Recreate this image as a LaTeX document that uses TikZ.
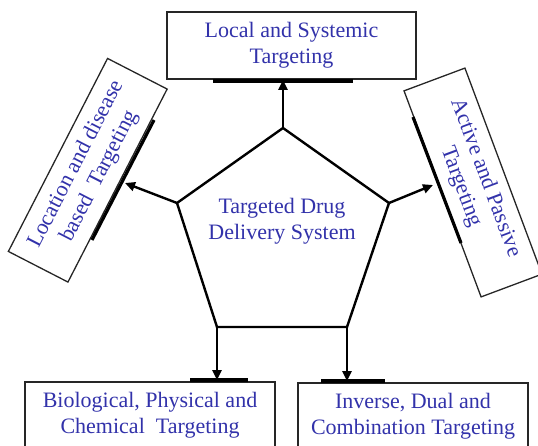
\documentclass[tikz,border=0pt]{standalone}
\usepackage{fontspec}
\setmainfont{Liberation Serif}
\usetikzlibrary{arrows.meta}
\definecolor{txtblue}{RGB}{50,50,170}
\begin{document}
\begin{tikzpicture}[x=1pt,y=-1pt,
  box/.style={draw=black!85, line width=1.3pt, minimum width=#1, minimum height=67pt,
    inner sep=0pt, align=center, text=txtblue, font=\fontsize{22}{26}\selectfont},
  box/.default=230pt,
  edge/.style={line width=2.4pt, line join=miter},
  arr/.style={line width=2.4pt, -{Triangle[length=10pt,width=9pt]}},
  bar/.style={line width=3.2pt}
]
\useasboundingbox (0,0) rectangle (538,446);
% boxes
\node[box=249pt] (topbox) at (291.5,45.5) {Local and Systemic\\Targeting};
\node[box=217pt, rotate=62.8] (leftbox) at (87.75,170.25) {Location and disease\\based~ Targeting};
\node[box=220pt, minimum height=65pt, rotate=-69.5] (rightbox) at (473,182.5) {Active and Passive\\Targeting};
\node[box=250pt] (blbox) at (150,415.5) {Biological, Physical and\\Chemical~ Targeting};
\node[box=230pt] (brbox) at (413,416.5) {Inverse, Dual and\\Combination Targeting};
% pentagon
\coordinate (pT) at (283,128);
\coordinate (pR) at (389,203);
\coordinate (pBR) at (347,327);
\coordinate (pBL) at (217,327);
\coordinate (pL) at (177,203);
\draw[edge] (pT) -- (pR) -- (pBR) -- (pBL) -- (pL) -- cycle;
\node[text=txtblue, align=center, font=\fontsize{22}{26}\selectfont] (center) at (282,221) {Targeted Drug\\Delivery System};
% arrow ends
\coordinate (aT) at (283,80);
\coordinate (aL) at (125,183);
\coordinate (aR) at (433,185);
\coordinate (aBL) at (217,380);
\coordinate (aBR) at (347,381);
\draw[arr] (pT) -- (aT);
\draw[arr] (pL) -- (aL);
\draw[arr] (pR) -- (aR);
\draw[arr] (pBL) -- (aBL);
\draw[arr] (pBR) -- (aBR);
% thick bars
\draw[bar] (213,81) -- (353,81);
\draw[bar] (154,120) -- (92,240);
\draw[bar] (413,117) -- (461,243);
\draw[bar] (190,380) -- (248,380);
\draw[bar] (321,381) -- (385,381);
\end{tikzpicture}
\end{document}
